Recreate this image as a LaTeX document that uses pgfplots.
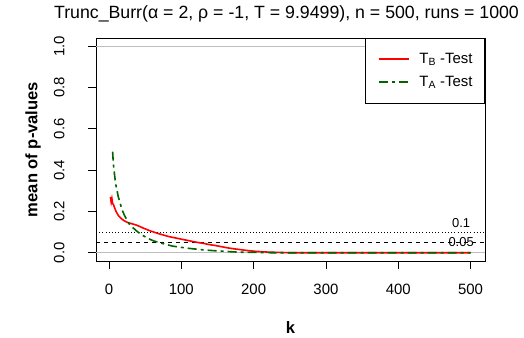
\documentclass[border=0pt]{standalone}
\usepackage{fontspec}
\setmainfont{Liberation Sans}
\usepackage{pgfplots}
\pgfplotsset{compat=1.18}

\definecolor{rred}{RGB}{255,0,0}
\definecolor{rgreen}{RGB}{0,100,0}
\definecolor{rgray}{RGB}{190,190,190}

\begin{document}
\begin{tikzpicture}
\useasboundingbox (-96bp,-77bp) rectangle (428bp,261bp);
\begin{axis}[
    at={(0,0)}, anchor=south west,
    width=389bp, height=223bp, scale only axis,
    xmin=-18, xmax=520,
    ymin=-0.04, ymax=1.04,
    xtick={0,100,...,500},
    ytick={0,0.2,...,1.0},
    tick align=outside,
    major tick length=8bp,
    xtick pos=bottom, ytick pos=left,
    /pgf/number format/assume math mode=true,
    tick label style={font=\fontsize{15}{15}\selectfont},
    xticklabel shift=12bp,
    yticklabel shift=20bp,
    yticklabel style={rotate=90, anchor=south, /pgf/number format/fixed, /pgf/number format/fixed zerofill, /pgf/number format/precision=1},
    axis line style={line width=0.8bp},
    every tick/.style={black, line width=0.8bp},
    title={Trunc\_Burr(α = 2, ρ = -1, T = 9.9499), n = 500, runs = 1000},
    title style={font=\fontsize{17.8}{17.8}\selectfont, at={(rel axis cs:0.5,1)}, anchor=center, yshift=18bp, xshift=-4bp},
    xlabel={k},
    ylabel={mean of p-values},
    every axis x label/.style={at={(rel axis cs:0.5,0)}, anchor=center, yshift=-67bp, font=\bfseries\fontsize{16.6}{16.6}\selectfont},
    every axis y label/.style={at={(rel axis cs:0,0.5)}, xshift=-63bp, rotate=90, anchor=center, font=\bfseries\fontsize{16.6}{16.6}\selectfont},
    legend style={at={(rel axis cs:1,1)}, anchor=north east, draw=black, line width=0.8bp,
        font=\fontsize{15}{15}\selectfont, inner xsep=12bp, inner ysep=15bp,
        row sep=11bp, column sep=10bp, nodes={inner sep=0pt}},
    legend cell align=left,
    legend image code/.code={\draw[#1] (0bp,0bp) -- (30bp,0bp);},
]
% reference lines
\addplot[rgray, line width=0.8bp, forget plot] coordinates {(-18,0) (520,0)};
\addplot[rgray, line width=0.8bp, forget plot] coordinates {(-18,1) (520,1)};
\addplot[black, line width=0.8bp, dash pattern=on 0.8bp off 2.4bp, forget plot] coordinates {(-18,0.1) (520,0.1)};
\addplot[black, line width=0.8bp, dash pattern=on 4bp off 4bp, forget plot] coordinates {(-18,0.05) (520,0.05)};

% T_B test
\addplot[rred, line width=1.6bp] coordinates {
(2,0.27)(3,0.245)(4,0.262)(5,0.238)(6,0.235)(8,0.215)(10,0.198)(13,0.18)(17,0.165)
(21,0.155)(26,0.146)(32,0.14)(37,0.135)(42,0.128)(47,0.12)(52,0.113)(56,0.107)
(62,0.1)(69,0.092)(76,0.085)(83,0.078)(90,0.073)(97,0.068)(104,0.063)(111,0.058)
(118,0.053)(124,0.049)(131,0.045)(138,0.04)(147,0.035)(156,0.029)(165,0.023)
(175,0.018)(184,0.014)(193,0.01)(202,0.007)(211,0.005)(220,0.003)(230,0.002)
(240,0.001)(250,0)(300,0)(400,0)(500,0)
};
% T_A test
\addplot[rgreen, line width=1.6bp, dash pattern=on 9bp off 4bp on 3bp off 4bp] coordinates {
(5,0.49)(6,0.43)(7,0.40)(8,0.366)(10,0.318)(13,0.269)(15,0.245)(17,0.22)(19,0.2)
(21.5,0.18)(25,0.158)(28,0.139)(33,0.122)(37.5,0.107)(42,0.095)(47,0.083)(52,0.074)
(56,0.066)(62,0.057)(70,0.049)(78,0.041)(88,0.032)(100,0.026)(111,0.021)(122,0.017)
(133,0.013)(145,0.01)(156,0.008)(168,0.005)(179,0.003)(190,0.002)(202,0.002)
(213,0.001)(225,0)(300,0)(400,0)(500,0)
};
\legend{T\textsubscript{B} -Test, T\textsubscript{A} -Test}

\node[font=\fontsize{13}{13}\selectfont] at (axis cs:487,0.146) {0.1};
\node[font=\fontsize{13}{13}\selectfont] at (axis cs:487,0.05) {0.05};
\end{axis}
\end{tikzpicture}
\end{document}
